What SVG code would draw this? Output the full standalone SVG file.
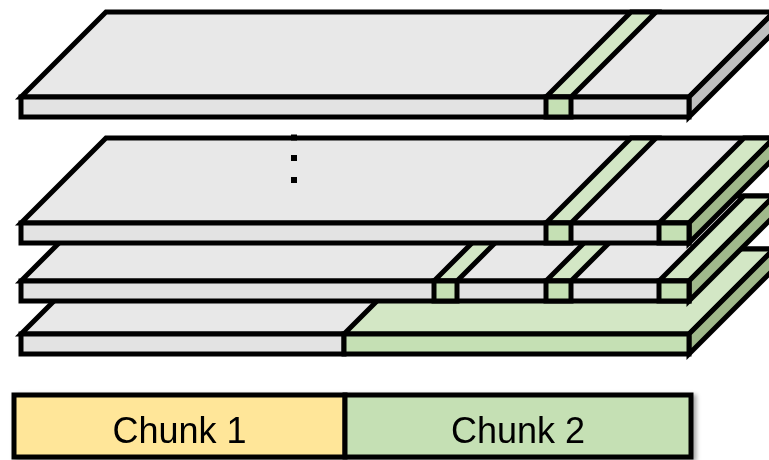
<svg xmlns="http://www.w3.org/2000/svg" width="769" height="460" viewBox="0 0 769 460">
  <defs>
    <style>
      .o { stroke: #000; stroke-width: 5; stroke-linejoin: miter; }
      .gt { fill: #e8e8e8; }
      .gf { fill: #e3e3e3; }
      .gs { fill: #bfbfbf; }
      .nt { fill: #d3e7c5; }
      .nf { fill: #c5e0b4; }
      .ns { fill: #a0b98b; }
      .lbl { font-family: "Liberation Sans", Arial, sans-serif; font-size: 36px; fill: #000; text-anchor: middle; }
    </style>
    <filter id="shadow" x="-5%" y="-20%" width="115%" height="150%">
      <feDropShadow dx="3" dy="2" stdDeviation="2" flood-color="#000" flood-opacity="0.35"/>
    </filter>
  </defs>
  <rect width="769" height="460" fill="#fff"/>

  <!-- Slab geometry is defined at front-top y=97; each slab is shifted down. -->

  <!-- Bottom slab: split into two halves -->
  <g id="slab4" transform="translate(0,237)">
    <path class="o gt" d="M21,97 L106,12 L774,12 L689,97 Z"/>
    <path class="o nt" d="M344,97 L429,12 L774,12 L689,97 Z"/>
    <path class="o ns" d="M689,97 L774,12 L774,32 L689,117 Z"/>
    <rect class="o gf" x="21" y="97" width="323" height="20"/>
    <rect class="o nf" x="344" y="97" width="345" height="20"/>
  </g>

  <!-- Third slab -->
  <g id="slab3" transform="translate(0,184)">
    <path class="o gt" d="M21,97 L106,12 L774,12 L689,97 Z"/>
    <path class="o nt" d="M434,97 L519,12 L542,12 L457,97 Z"/>
    <path class="o nt" d="M546,97 L631,12 L656,12 L571,97 Z"/>
    <path class="o nt" d="M659,97 L744,12 L774,12 L689,97 Z"/>
    <path class="o ns" d="M689,97 L774,12 L774,32 L689,117 Z"/>
    <rect class="o gf" x="21" y="97" width="668" height="20"/>
    <rect class="o nf" x="434" y="97" width="23" height="20"/>
    <rect class="o nf" x="546" y="97" width="25" height="20"/>
    <rect class="o nf" x="659" y="97" width="30" height="20"/>
  </g>

  <!-- Second slab -->
  <g id="slab2" transform="translate(0,126)">
    <path class="o gt" d="M21,97 L106,12 L774,12 L689,97 Z"/>
    <path class="o nt" d="M546,97 L631,12 L656,12 L571,97 Z"/>
    <path class="o nt" d="M659,97 L744,12 L774,12 L689,97 Z"/>
    <path class="o ns" d="M689,97 L774,12 L774,32 L689,117 Z"/>
    <rect class="o gf" x="21" y="97" width="668" height="20"/>
    <rect class="o nf" x="546" y="97" width="25" height="20"/>
    <rect class="o nf" x="659" y="97" width="30" height="20"/>
  </g>

  <!-- Vertical ellipsis between the top slab and the rest -->
  <g id="ellipsis" fill="#000">
    <rect x="291" y="134.5" width="6" height="6"/>
    <rect x="291" y="155" width="6" height="6"/>
    <rect x="291" y="177" width="6" height="6"/>
  </g>

  <!-- Top slab -->
  <g id="slab1">
    <path class="o gt" d="M21,97 L106,12 L774,12 L689,97 Z"/>
    <path class="o nt" d="M546,97 L631,12 L656,12 L571,97 Z"/>
    <path class="o gs" d="M689,97 L774,12 L774,32 L689,117 Z"/>
    <rect class="o gf" x="21" y="97" width="668" height="20"/>
    <rect class="o nf" x="546" y="97" width="25" height="20"/>
  </g>

  <!-- Legend bar -->
  <g id="chunks" filter="url(#shadow)">
    <g id="chunk1">
      <rect class="o" x="14" y="395" width="331" height="62" fill="#ffe699"/>
      <text class="lbl" x="179.5" y="443">Chunk 1</text>
    </g>
    <g id="chunk2">
      <rect class="o" x="345" y="395" width="346" height="62" fill="#c5e0b4"/>
      <text class="lbl" x="518" y="443">Chunk 2</text>
    </g>
  </g>
</svg>
